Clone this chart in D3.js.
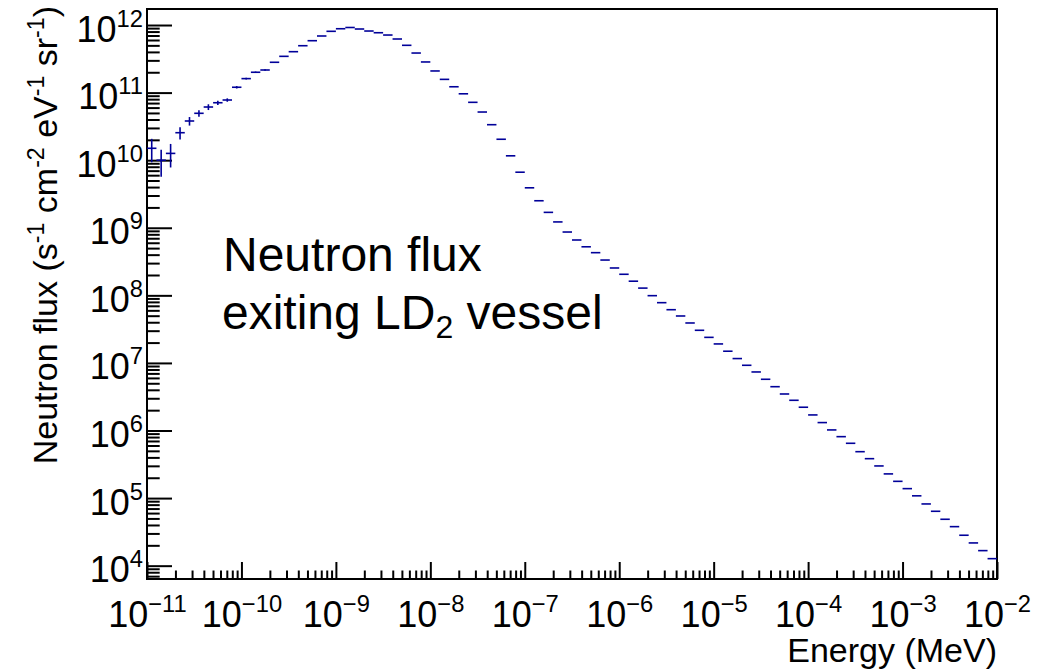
<!DOCTYPE html>
<html>
<head>
<meta charset="utf-8">
<script src="https://cdn.jsdelivr.net/npm/d3@7"></script>
<style>
  body { margin: 0; background: #fff; }
  svg { display: block; font-family: "Liberation Sans", Arial, Helvetica, sans-serif; }
</style>
</head>
<body>
<div id="chart"></div>
<script>
// Histogram binning: 10 log bins per decade, 1e-11 .. 1e-2 MeV
const energyMin = 1e-11;
const energyMax = 1e-2;
const binsPerDecade = 10;

// Neutron flux per bin (s^-1 cm^-2 eV^-1 sr^-1)
const flux = [
  1.50e10, 1.00e10, 1.26e10, 2.55e10, 3.80e10, 4.94e10, 6.12e10, 7.08e10, 7.77e10, 1.20e11,
  1.61e11, 2.00e11, 2.16e11, 2.81e11, 3.44e11, 4.03e11, 4.94e11, 5.86e11, 6.88e11, 8.07e11,
  8.81e11, 9.19e11, 8.73e11, 8.15e11, 7.69e11, 7.11e11, 6.21e11, 5.01e11, 3.85e11, 2.84e11,
  2.09e11, 1.57e11, 1.22e11, 9.60e10, 7.18e10, 5.16e10, 3.35e10, 2.04e10, 1.16e10, 6.64e9,
  3.90e9, 2.51e9, 1.69e9, 1.22e9, 8.65e8, 6.59e8, 5.23e8, 4.28e8, 3.33e8, 2.54e8,
  2.05e8, 1.62e8, 1.28e8, 9.89e7, 7.79e7, 6.13e7, 4.95e7, 3.90e7, 3.04e7, 2.39e7,
  1.91e7, 1.49e7, 1.16e7, 9.23e6, 7.35e6, 5.73e6, 4.45e6, 3.47e6, 2.80e6, 2.21e6,
  1.70e6, 1.31e6, 1.02e6, 8.11e5, 6.47e5, 4.86e5, 3.83e5, 2.99e5, 2.28e5, 1.77e5,
  1.38e5, 1.08e5, 8.19e4, 6.38e4, 4.86e4, 3.78e4, 2.82e4, 2.17e4, 1.67e4, 1.27e4
];

// statistical errors, only visible for the lowest bins
const fluxErr = [5.7e9, 4.3e9, 4.8e9, 5.3e9, 5.5e9, 5.5e9, 6.0e9, 5.0e9, 4.5e9, 5.0e9, 5.0e9, 5.0e9, 5.0e9];

const xMajorTicks = [1e-11, 1e-10, 1e-9, 1e-8, 1e-7, 1e-6, 1e-5, 1e-4, 1e-3, 1e-2];
const yMajorTicks = [1e4, 1e5, 1e6, 1e7, 1e8, 1e9, 1e10, 1e11, 1e12];
const yMin = 6350, yMax = 1.726e12;

const W = 1056, H = 670;
const frame = { left: 147, right: 997, top: 9, bottom: 579 };
const labelSize = 36, titleSize = 34;

const svg = d3.select("#chart").append("svg")
  .attr("width", W).attr("height", H);

svg.append("rect").attr("width", W).attr("height", H).attr("fill", "#fff");

const x = d3.scaleLog().domain([energyMin, energyMax]).range([frame.left, frame.right]);
const y = d3.scaleLog().domain([yMin, yMax]).range([frame.bottom, frame.top]);

// bin edges
const nBins = flux.length;
const edges = d3.range(nBins + 1).map(i => energyMin * Math.pow(10, i / binsPerDecade));

// minor ticks 2..9 per decade
function minorTicks(lo, hi) {
  const out = [];
  for (let e = Math.floor(Math.log10(lo)); e <= Math.ceil(Math.log10(hi)); e++) {
    for (let m = 2; m <= 9; m++) {
      const v = m * Math.pow(10, e);
      if (v > lo && v < hi) out.push(v);
    }
  }
  return out;
}

// x axis
const xMinor = svg.append("g")
  .attr("transform", `translate(0,${frame.bottom})`)
  .call(d3.axisBottom(x).tickValues(minorTicks(energyMin, energyMax)).tickSize(-8.5).tickFormat(""));
const xMajor = svg.append("g")
  .attr("transform", `translate(0,${frame.bottom})`)
  .call(d3.axisBottom(x).tickValues(xMajorTicks).tickSize(-17).tickPadding(0).tickFormat(""));

// y axis
const yMinor = svg.append("g")
  .attr("transform", `translate(${frame.left},0)`)
  .call(d3.axisLeft(y).tickValues(minorTicks(yMin, yMax)).tickSize(-12.7).tickFormat(""));
const yMajor = svg.append("g")
  .attr("transform", `translate(${frame.left},0)`)
  .call(d3.axisLeft(y).tickValues(yMajorTicks).tickSize(-25).tickFormat(""));

[xMinor, xMajor, yMinor, yMajor].forEach(g => {
  g.select(".domain").remove();
  g.selectAll(".tick line").attr("stroke", "#000").attr("stroke-width", 2);
});

// power-of-ten labels
xMajor.selectAll(".tick").each(function(d) {
  const t = d3.select(this).append("text")
    .attr("y", 48).attr("fill", "#000")
    .attr("text-anchor", "middle")
    .style("font-size", labelSize + "px");
  t.append("tspan").text("10");
  t.append("tspan").attr("dy", -15).style("font-size", (labelSize * 0.66) + "px")
    .text("\u2212" + Math.abs(Math.round(Math.log10(d))));
});

yMajor.selectAll(".tick").each(function(d) {
  const t = d3.select(this).append("text")
    .attr("x", -4).attr("y", 0).attr("dy", 16).attr("fill", "#000")
    .attr("text-anchor", "end")
    .style("font-size", labelSize + "px");
  t.append("tspan").text("10");
  t.append("tspan").attr("dy", -15).style("font-size", (labelSize * 0.66) + "px")
    .text(Math.round(Math.log10(d)));
});

// frame
svg.append("rect")
  .attr("x", frame.left).attr("y", frame.top)
  .attr("width", frame.right - frame.left).attr("height", frame.bottom - frame.top)
  .attr("fill", "none").attr("stroke", "#000").attr("stroke-width", 2);

// histogram: horizontal bin lines + error bars
const hist = svg.append("g").attr("stroke", "#000099").attr("stroke-width", 1.6);

hist.selectAll(".bin")
  .data(flux)
  .enter().append("line")
  .attr("class", "bin")
  .attr("x1", (d, i) => x(edges[i]))
  .attr("x2", (d, i) => x(edges[i + 1]))
  .attr("y1", d => y(d))
  .attr("y2", d => y(d));

hist.selectAll(".err")
  .data(fluxErr)
  .enter().append("line")
  .attr("class", "err")
  .attr("x1", (d, i) => x(Math.sqrt(edges[i] * edges[i + 1])))
  .attr("x2", (d, i) => x(Math.sqrt(edges[i] * edges[i + 1])))
  .attr("y1", (d, i) => y(flux[i] + d))
  .attr("y2", (d, i) => y(Math.max(flux[i] - d, yMin)));

// axis titles
svg.append("text")
  .attr("x", frame.right).attr("y", 662)
  .attr("text-anchor", "end")
  .style("font-size", titleSize + "px")
  .text("Energy (MeV)");

const yt = svg.append("text")
  .attr("transform", `translate(57,6) rotate(-90)`)
  .attr("text-anchor", "end")
  .style("font-size", titleSize + "px");
const supSize = (titleSize * 0.68) + "px";
yt.append("tspan").text("Neutron flux (s");
yt.append("tspan").attr("dy", -13).style("font-size", supSize).text("-1");
yt.append("tspan").attr("dy", 13).text(" cm");
yt.append("tspan").attr("dy", -13).style("font-size", supSize).text("-2");
yt.append("tspan").attr("dy", 13).text(" eV");
yt.append("tspan").attr("dy", -13).style("font-size", supSize).text("-1");
yt.append("tspan").attr("dy", 13).text(" sr");
yt.append("tspan").attr("dy", -13).style("font-size", supSize).text("-1");
yt.append("tspan").attr("dy", 13).text(")");

// annotation
svg.append("text")
  .attr("x", 223).attr("y", 271)
  .style("font-size", "48px")
  .text("Neutron flux");
const ann = svg.append("text")
  .attr("x", 222).attr("y", 329)
  .style("font-size", "48px");
ann.append("tspan").text("exiting LD");
ann.append("tspan").attr("dy", 9).style("font-size", "32px").text("2");
ann.append("tspan").attr("dy", -9).text(" vessel");
</script>
</body>
</html>
